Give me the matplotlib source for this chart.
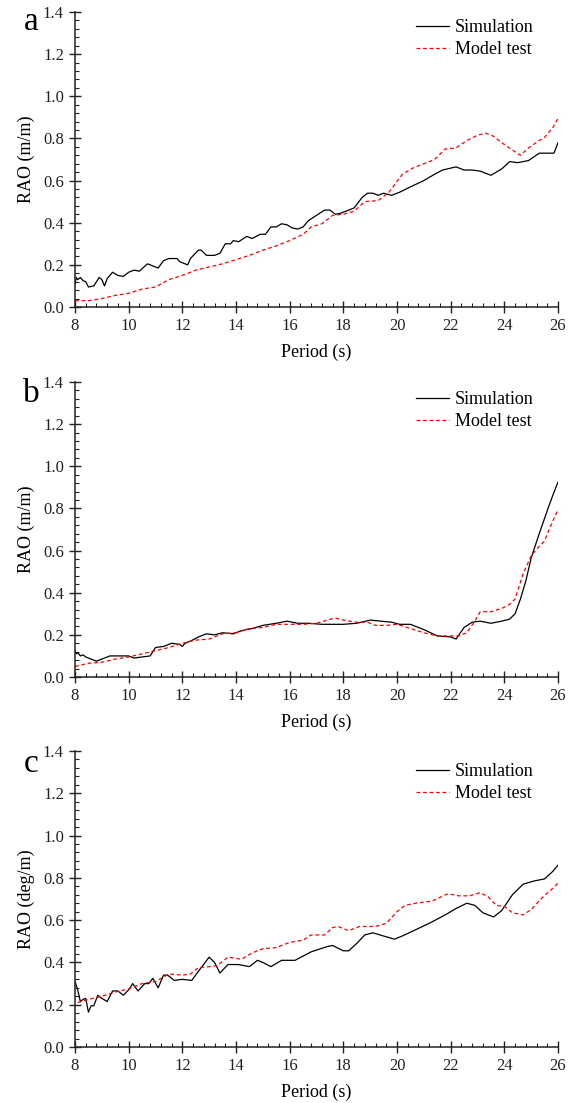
import matplotlib
matplotlib.use("Agg")
import matplotlib.pyplot as plt
from matplotlib.ticker import MultipleLocator, FormatStrFormatter

plt.rcParams['font.family'] = ['Liberation Serif', 'DejaVu Serif']

# ---- 数据 ----
# a: 仿真
a_sim_t = [8.0, 8.05, 8.1, 8.2, 8.3, 8.4, 8.5, 8.7, 8.9, 9.0, 9.1, 9.2, 9.4, 9.6, 9.8,
           10.0, 10.2, 10.4, 10.7, 11.0, 11.1, 11.3, 11.5, 11.8, 11.9, 12.0, 12.2,
           12.3, 12.6, 12.7, 12.9, 13.2, 13.4, 13.6, 13.8, 13.9, 14.1, 14.4, 14.6,
           14.9, 15.1, 15.3, 15.5, 15.7, 15.9, 16.1, 16.3, 16.5, 16.7, 17.0, 17.3,
           17.5, 17.7, 17.9, 18.1, 18.4, 18.7, 18.9, 19.1, 19.3, 19.5, 19.8, 20.1,
           20.5, 21.0, 21.4, 21.7, 22.2, 22.5, 22.8, 23.1, 23.5, 23.9, 24.2, 24.5,
           24.9, 25.3, 25.7, 25.85, 26.0]
a_sim_r = [0.11, 0.14, 0.13, 0.14, 0.125, 0.12, 0.095, 0.10, 0.14, 0.13, 0.10, 0.135,
           0.165, 0.15, 0.145, 0.165, 0.175, 0.17, 0.205, 0.19, 0.185, 0.22, 0.23,
           0.23, 0.215, 0.21, 0.20, 0.23, 0.27, 0.27, 0.245, 0.245, 0.255, 0.30, 0.30,
           0.315, 0.31, 0.335, 0.325, 0.345, 0.345, 0.38, 0.38, 0.395, 0.39, 0.375,
           0.37, 0.38, 0.41, 0.435, 0.46, 0.46, 0.44, 0.445, 0.455, 0.47, 0.52, 0.54,
           0.54, 0.53, 0.54, 0.53, 0.545, 0.57, 0.60, 0.63, 0.65, 0.665, 0.65, 0.65,
           0.645, 0.625, 0.655, 0.69, 0.685, 0.695, 0.73, 0.73, 0.73, 0.78]
# a: 模型试验
a_exp_t = [8.0, 8.5, 9.0, 9.5, 10.0, 10.5, 11.0, 11.5, 12.0, 12.5, 13.0, 13.5, 14.0,
           14.5, 15.0, 15.5, 16.0, 16.5, 16.8, 17.2, 17.6, 18.0, 18.4, 18.8, 19.3,
           19.7, 20.2, 20.6, 21.0, 21.4, 21.8, 22.2, 22.6, 23.0, 23.3, 23.6, 23.9,
           24.3, 24.6, 24.9, 25.3, 25.5, 25.8, 26.0]
a_exp_r = [0.03, 0.03, 0.04, 0.055, 0.065, 0.085, 0.095, 0.13, 0.15, 0.175, 0.19,
           0.205, 0.225, 0.245, 0.27, 0.29, 0.315, 0.345, 0.38, 0.395, 0.435, 0.44,
           0.455, 0.50, 0.505, 0.545, 0.63, 0.66, 0.68, 0.70, 0.75, 0.755, 0.79,
           0.815, 0.825, 0.81, 0.78, 0.745, 0.72, 0.755, 0.79, 0.805, 0.85, 0.895]

# b: 仿真
b_sim_t = [8.0, 8.05, 8.1, 8.2, 8.3, 8.4, 8.6, 8.8, 9.0, 9.3, 9.7, 10.0, 10.2, 10.5,
           10.8, 11.0, 11.3, 11.6, 11.9, 12.0, 12.1, 12.3, 12.6, 12.9, 13.2, 13.5,
           13.9, 14.2, 14.6, 15.0, 15.5, 15.9, 16.3, 16.7, 17.2, 17.6, 18.0, 18.5,
           19.0, 19.4, 19.8, 20.1, 20.5, 21.0, 21.5, 22.0, 22.2, 22.5, 22.8, 23.1,
           23.5, 23.9, 24.2, 24.4, 24.6, 24.8, 25.0, 25.3, 25.6, 25.8, 26.0]
b_sim_r = [0.125, 0.11, 0.115, 0.10, 0.105, 0.095, 0.085, 0.075, 0.085, 0.10, 0.10,
           0.10, 0.09, 0.095, 0.10, 0.14, 0.145, 0.16, 0.155, 0.145, 0.16, 0.17, 0.19,
           0.205, 0.20, 0.21, 0.205, 0.22, 0.23, 0.245, 0.255, 0.265, 0.255, 0.255,
           0.25, 0.25, 0.25, 0.255, 0.27, 0.265, 0.26, 0.25, 0.25, 0.225, 0.195, 0.19,
           0.18, 0.235, 0.26, 0.265, 0.255, 0.265, 0.275, 0.30, 0.37, 0.455, 0.565,
           0.68, 0.79, 0.86, 0.925]
# b: 模型试验
b_exp_t = [8.0, 8.5, 9.0, 9.5, 10.0, 10.5, 11.0, 11.5, 12.0, 12.5, 13.0, 13.5, 14.0,
           14.5, 15.0, 15.5, 16.0, 16.5, 17.0, 17.4, 17.7, 18.0, 18.5, 18.9, 19.2,
           19.6, 20.0, 20.5, 21.0, 21.5, 22.0, 22.3, 22.6, 22.9, 23.1, 23.5, 23.9,
           24.2, 24.4, 24.7, 25.0, 25.3, 25.5, 25.7, 26.0]
b_exp_r = [0.05, 0.065, 0.07, 0.085, 0.095, 0.11, 0.125, 0.14, 0.16, 0.175, 0.18,
           0.205, 0.21, 0.23, 0.235, 0.25, 0.25, 0.25, 0.255, 0.27, 0.28, 0.27, 0.26,
           0.26, 0.245, 0.245, 0.25, 0.23, 0.21, 0.195, 0.195, 0.195, 0.21, 0.265,
           0.31, 0.31, 0.325, 0.345, 0.37, 0.49, 0.575, 0.62, 0.645, 0.71, 0.795]

# c: 仿真
c_sim_t = [8.0, 8.1, 8.2, 8.3, 8.4, 8.5, 8.6, 8.7, 8.85, 9.0, 9.2, 9.4, 9.6, 9.8, 10.0,
           10.15, 10.35, 10.6, 10.75, 10.9, 11.1, 11.3, 11.45, 11.7, 12.0, 12.35,
           12.7, 13.0, 13.2, 13.4, 13.7, 14.1, 14.5, 14.8, 15.0, 15.3, 15.7, 16.2,
           16.8, 17.4, 17.6, 18.0, 18.2, 18.5, 18.8, 19.1, 19.5, 19.9, 20.2, 20.7,
           21.2, 21.8, 22.2, 22.6, 22.9, 23.2, 23.6, 23.9, 24.3, 24.7, 25.1, 25.5,
           25.8, 26.0]
c_sim_r = [0.31, 0.27, 0.215, 0.225, 0.23, 0.165, 0.195, 0.195, 0.245, 0.23, 0.215,
           0.265, 0.265, 0.245, 0.27, 0.30, 0.265, 0.30, 0.30, 0.325, 0.28, 0.34, 0.34,
           0.315, 0.32, 0.315, 0.375, 0.425, 0.40, 0.35, 0.39, 0.39, 0.38, 0.41, 0.40,
           0.38, 0.41, 0.41, 0.45, 0.475, 0.48, 0.455, 0.455, 0.49, 0.53, 0.54, 0.525,
           0.51, 0.525, 0.555, 0.585, 0.625, 0.655, 0.68, 0.67, 0.635, 0.615, 0.645,
           0.72, 0.77, 0.785, 0.795, 0.83, 0.86]
# c: 模型试验
c_exp_t = [8.1, 8.5, 9.0, 9.5, 10.0, 10.5, 11.0, 11.5, 12.0, 12.3, 12.6, 13.0, 13.3,
           13.7, 14.2, 14.6, 15.0, 15.5, 16.0, 16.5, 16.8, 17.3, 17.6, 17.8, 18.2,
           18.6, 19.2, 19.6, 20.0, 20.3, 20.7, 21.3, 21.9, 22.3, 22.7, 23.1, 23.4,
           23.7, 24.0, 24.3, 24.7, 25.0, 25.4, 25.8, 26.0]
c_exp_r = [0.21, 0.225, 0.24, 0.26, 0.275, 0.30, 0.31, 0.345, 0.34, 0.345, 0.375,
           0.38, 0.385, 0.425, 0.415, 0.445, 0.465, 0.47, 0.495, 0.505, 0.53, 0.53,
           0.565, 0.57, 0.55, 0.57, 0.57, 0.585, 0.64, 0.67, 0.68, 0.69, 0.725, 0.715,
           0.715, 0.73, 0.71, 0.67, 0.665, 0.635, 0.625, 0.65, 0.705, 0.75, 0.775]

panel_letters = ['a', 'b', 'c']
y_labels = ['RAO (m/m)', 'RAO (m/m)', 'RAO (deg/m)']
x_label = 'Period (s)'
legend_labels = ['Simulation', 'Model test']

W, H = 574, 1103
fig = plt.figure(figsize=(W / 100, H / 100), dpi=100)

# 坐标轴位置 (像素): 左, 右, 各面板的顶和底
ax_left, ax_right = 75, 558
tops = [12, 382, 751]
bottoms = [307, 677, 1047]
legend_tops = [19, 391, 763]
letter_pos = [(31, 22), (31, 394), (31, 764)]

series = [
    (a_sim_t, a_sim_r, a_exp_t, a_exp_r),
    (b_sim_t, b_sim_r, b_exp_t, b_exp_r),
    (c_sim_t, c_sim_r, c_exp_t, c_exp_r),
]

for i, (st, sr, et, er) in enumerate(series):
    ax = fig.add_axes([ax_left / W, 1 - bottoms[i] / H,
                       (ax_right - ax_left) / W, (bottoms[i] - tops[i]) / H])
    ax.plot(st, sr, color='black', lw=0.9, label=legend_labels[0])
    ax.plot(et, er, color='red', lw=0.9, dashes=(3, 2.2), label=legend_labels[1])

    ax.set_xlim(8, 26)
    ax.set_ylim(0, 1.4)
    ax.xaxis.set_major_locator(MultipleLocator(2))
    ax.xaxis.set_minor_locator(MultipleLocator(0.4))
    ax.yaxis.set_major_locator(MultipleLocator(0.2))
    ax.yaxis.set_minor_locator(MultipleLocator(0.04))
    ax.yaxis.set_major_formatter(FormatStrFormatter('%.1f'))

    ax.spines['top'].set_visible(False)
    ax.spines['right'].set_visible(False)
    for s in ('left', 'bottom'):
        ax.spines[s].set_linewidth(1.1)
        ax.spines[s].set_color('#222222')
    ax.tick_params(which='major', direction='inout', length=8, width=1.0,
                   labelsize=12, colors='#222222', pad=4)
    ax.tick_params(which='minor', direction='in', length=3, width=0.8,
                   colors='#222222')

    ax.set_xlabel(x_label, fontsize=13, labelpad=7)
    ax.set_ylabel(y_labels[i], fontsize=13, labelpad=6)

    leg_y = 1 - (legend_tops[i] - tops[i]) / (bottoms[i] - tops[i])
    ax.legend(loc='upper left', bbox_to_anchor=((416 - ax_left) / (ax_right - ax_left), leg_y),
              frameon=False, fontsize=13, handlelength=1.8, handletextpad=0.35,
              labelspacing=0.3, borderpad=0, borderaxespad=0)

    lx, ly = letter_pos[i]
    fig.text(lx / W, 1 - ly / H, panel_letters[i], fontsize=24,
             ha='center', va='center')

fig.savefig('out.png', dpi=100)
